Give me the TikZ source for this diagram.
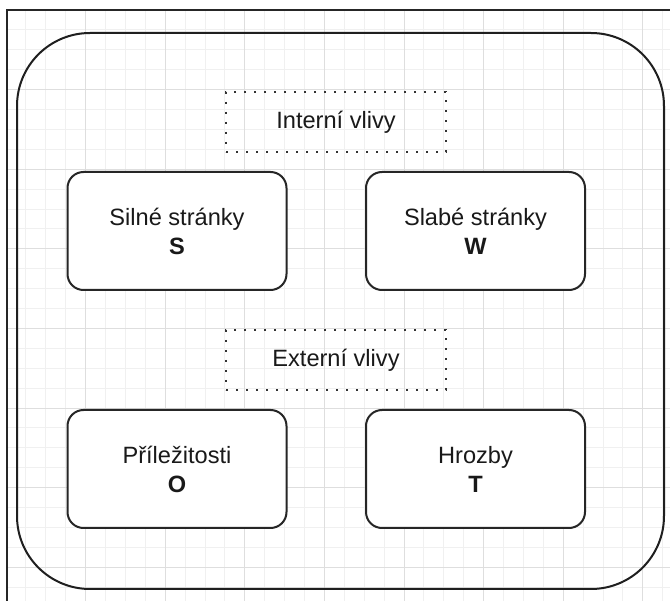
\documentclass[tikz,border=0pt]{standalone}
\usepackage{fontspec}
\setmainfont{Liberation Sans}
\begin{document}
\begin{tikzpicture}[x=1pt,y=-1pt,
  minorline/.style={draw=black!6,line width=0.9pt},
  majorline/.style={draw=black!13,line width=0.9pt},
  frameline/.style={draw=black!85,line width=1.3pt},
  swot/.style={draw=black!85,line width=2pt,fill=white,rounded corners=16pt,
    minimum width=219pt,minimum height=118pt,align=center,
    font=\fontsize{23.6}{29}\selectfont,text=black!90},
  group/.style={draw=black!80,line width=2pt,dash pattern=on 2pt off 8pt,
    minimum width=220pt,minimum height=60pt,align=center,
    font=\fontsize{23.6}{29}\selectfont,text=black!90}]
\useasboundingbox (0,0) rectangle (670,601);
\fill[white] (0,0) rectangle (670,601);
% background grid
\foreach \i in {1,...,33} \draw[minorline] ({6+19.9*\i},10) -- ({6+19.9*\i},601);
\foreach \j in {1,...,30} \draw[minorline] (7,{10+19.9*\j}) -- (670,{10+19.9*\j});
\foreach \i in {4,8,...,32} \draw[majorline] ({6+19.9*\i},10) -- ({6+19.9*\i},601);
\foreach \j in {4,8,...,28} \draw[majorline] (7,{10+19.9*\j}) -- (670,{10+19.9*\j});
% page frame
\draw[frameline] (7,601) -- (7,10) -- (670,10);
% outer container
\draw[black!88,line width=2pt,rounded corners=73pt] (17,33) rectangle (664,589);
% headings
\node[group] (int) at (336,122) {Interní vlivy};
\node[group] (ext) at (336,360) {Externí vlivy};
% quadrants
\node[swot] (s) at (177,231) {Silné stránky\\\textbf{S}};
\node[swot] (w) at (475.5,231) {Slabé stránky\\\textbf{W}};
\node[swot] (o) at (177,469) {Příležitosti\\\textbf{O}};
\node[swot] (t) at (475.5,469) {Hrozby\\\textbf{T}};
\end{tikzpicture}
\end{document}
